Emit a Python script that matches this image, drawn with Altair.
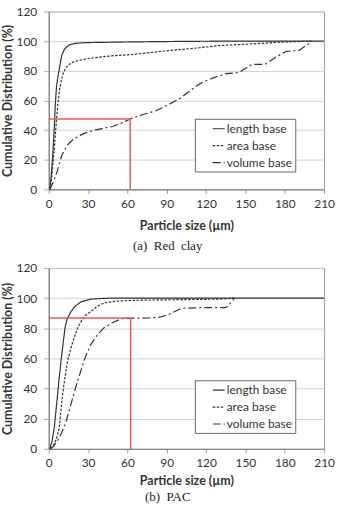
import altair as alt
import pandas as pd

SERIES = ["length base", "area base", "volume base"]
X_TICKS = [0, 30, 60, 90, 120, 150, 180, 210]
Y_TICKS = [0, 20, 40, 60, 80, 100, 120]

# (a) Red clay
rc_length_x = [0.8, 2, 3, 3.8, 4.5, 5, 6, 7.6, 9, 10, 12, 15, 20, 25, 30, 45, 60, 90, 120, 160, 210]
rc_length_y = [0, 10, 22, 34, 46, 57, 70, 79, 86, 90.5, 94.5, 97.2, 98.4, 98.8, 99.0, 99.2, 99.4, 99.7, 99.9, 100, 100]
rc_area_x = [1, 2.5, 3.8, 5, 5.8, 6.9, 8.4, 10, 11.4, 13, 15.2, 19, 24, 32, 40.6, 50, 64, 85, 100, 115, 130, 153, 180, 200]
rc_area_y = [0, 10, 23, 36, 45.5, 56.8, 68, 75, 79, 82, 84, 86, 87.2, 88.5, 89.4, 90.2, 91, 93, 94.3, 95.5, 97, 98, 99.4, 100]
rc_volume_x = [1, 3.5, 6.3, 10, 14, 19, 26.6, 33, 40.6, 48.8, 55, 62.2, 72, 81.8, 90, 99.5, 107, 114.8, 121, 128,
               135, 145, 150, 155, 165, 172, 180.7, 191, 201]
rc_volume_y = [0, 5, 11.7, 23, 29.7, 34, 37.6, 39.5, 41, 42.4, 44.5, 47.5, 50.5, 53, 56.5, 61, 66, 71, 73.6, 76,
               78, 78.7, 81.5, 84.3, 84.3, 88.5, 93, 93.7, 100]
rc_marker = (62.2, 47.5)

# (b) PAC
pac_length_x = [0.8, 2.5, 4.3, 5.5, 6.8, 8, 9.4, 11, 12.4, 14, 17, 20, 24.5, 31.6, 40, 50, 70, 210]
pac_length_y = [0, 5, 14.3, 25, 36.3, 47, 58.2, 70, 80.2, 86, 91, 94.5, 97.5, 99.2, 99.7, 100, 100, 100]
pac_area_x = [1.5, 4, 6, 8.1, 9.3, 10.6, 12.5, 14.4, 17, 19.5, 22, 25, 28, 32, 37, 42, 52, 65, 77, 95, 115, 135, 142]
pac_area_y = [0, 3, 7, 14.3, 25, 36.3, 48, 58.2, 67, 74, 80.2, 85, 88.5, 91, 94.5, 96.7, 98, 98.5, 98.7, 98.9,
              99.1, 99.4, 100]
pac_volume_x = [1.3, 4, 7, 10, 12.5, 15.5, 19, 22, 25, 28, 32, 37, 42, 48, 55.6, 64.5, 77, 84.7, 92, 101, 115,
                135, 138, 141.7]
pac_volume_y = [0, 2, 6, 11, 16, 25, 36, 45, 53, 61, 69, 75.5, 80.2, 83.5, 86.3, 86.7, 86.8, 87.3, 89.3, 93.2,
                93.6, 93.6, 96, 100]
pac_marker = (62.5, 86.8)

SANS = "Lato"
INK = "#333333"

X_SCALE = alt.Scale(domain=[0, 210], nice=False)
Y_SCALE = alt.Scale(domain=[0, 120], nice=False)
Y_AXIS = alt.Axis(
    values=Y_TICKS, grid=True, gridColor="#d2d2d2", labelOverlap=False,
    tickSize=5, tickColor="#aaaaaa", domainColor="#777777",
    labelFont=SANS, labelFontSize=12, labelColor=INK, labelPadding=7,
    title="Cumulative Distribution (%)", titleFont=SANS, titleFontSize=12.5,
    titleFontWeight="bold", titleColor=INK, titlePadding=2,
)


def x_axis(title_pad):
    return alt.Axis(
        values=X_TICKS, grid=False, labelFlush=False, labelOverlap=False,
        tickSize=4, tickColor="#999999", domainColor="#777777",
        labelFont=SANS, labelFontSize=12, labelColor=INK, labelPadding=5,
        title="Particle size (µm)", titleFont=SANS, titleFontSize=12.5,
        titleFontWeight="bold", titleColor=INK, titlePadding=title_pad,
    )


def long_table(curves):
    rows = []
    for name, (xs, ys) in zip(SERIES, curves):
        for i, (x, y) in enumerate(zip(xs, ys)):
            rows.append({"size": x, "cum": y, "base": name, "idx": i})
    return pd.DataFrame(rows)


def panel(curves, marker, caption, height, legend_y, title_pad, caption_offset):
    data = long_table(curves)
    mx, my = marker
    guides = pd.DataFrame([
        {"size": 0, "size2": mx, "cum": my, "cum2": my},
        {"size": mx, "size2": mx, "cum": 0, "cum2": my},
    ])
    x_ax = x_axis(title_pad)

    lines = alt.Chart(data).mark_line(color=INK, strokeWidth=1.2).encode(
        x=alt.X("size:Q", scale=X_SCALE, axis=x_ax),
        y=alt.Y("cum:Q", scale=Y_SCALE, axis=Y_AXIS),
        order="idx:Q",
        strokeDash=alt.StrokeDash(
            "base:N",
            scale=alt.Scale(domain=SERIES, range=[[1, 0], [2.5, 1.5], [8, 3, 2, 3]]),
            legend=alt.Legend(
                title=None, orient="none", legendX=147, legendY=legend_y,
                symbolType="stroke", symbolStrokeColor=INK, symbolStrokeWidth=1.2,
                symbolSize=144, symbolOffset=14, labelOffset=1,
                labelFont=SANS, labelFontSize=12, labelColor=INK,
                labelExpr="datum.label + '\u00a0\u00a0'",
                rowPadding=4, padding=3, strokeColor="#666666", fillColor="white",
            ),
        ),
    )

    rules = alt.Chart(guides).mark_rule(color="#e85a5c", strokeWidth=1.5).encode(
        x=alt.X("size:Q", scale=X_SCALE, axis=x_ax),
        x2="size2:Q",
        y=alt.Y("cum:Q", scale=Y_SCALE, axis=Y_AXIS),
        y2="cum2:Q",
    )

    return alt.layer(lines, rules).properties(
        width=277,
        height=height,
        title=alt.TitleParams(
            caption, orient="bottom", anchor="middle", frame="bounds",
            font="Liberation Serif", fontSize=13, fontWeight="normal",
            color="#222222", offset=caption_offset,
        ),
    )


top = panel([(rc_length_x, rc_length_y), (rc_area_x, rc_area_y), (rc_volume_x, rc_volume_y)],
            rc_marker, "(a)\u00a0\u00a0Red\u00a0\u00a0clay", 179, 108, 10, 8)
bottom = panel([(pac_length_x, pac_length_y), (pac_area_x, pac_area_y), (pac_volume_x, pac_volume_y)],
               pac_marker, "(b)\u00a0\u00a0PAC", 182, 113, 6, 4)

chart = (
    alt.vconcat(top, bottom, spacing=8)
    .resolve_scale(strokeDash="independent")
    .resolve_legend(strokeDash="independent")
    .properties(padding={"left": 0, "top": 3, "right": 4, "bottom": 0}, background="white")
    .configure_view(stroke="#999999", strokeWidth=1)
)

chart.save("out.html", embed_options={"renderer": "svg", "actions": False})
